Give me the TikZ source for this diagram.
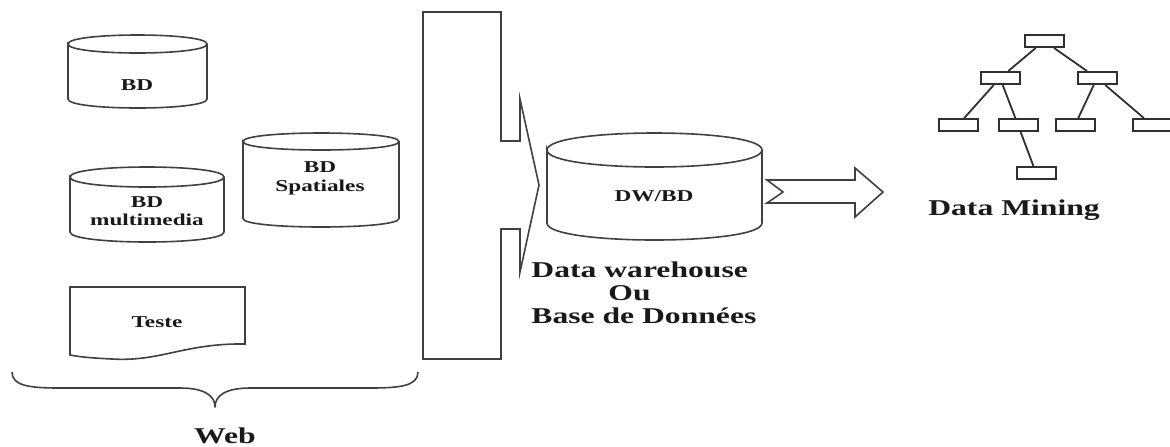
\documentclass[tikz,border=0pt]{standalone}
\usepackage{fontspec}
\setmainfont[FakeStretch=1.4, BoldFont={Liberation Serif Bold}, BoldFeatures={FakeStretch=1.4}]{Liberation Serif}
\newcommand\smalltxt{\fontsize{8.3}{10}\bfseries\selectfont}
\newcommand\bigtxt{\fontsize{11.3}{11.5}\bfseries\selectfont}
\definecolor{linegray}{HTML}{404040}
\definecolor{treegray}{HTML}{303030}
\tikzset{
  shapeline/.style={draw=linegray, line width=0.8pt, line join=miter},
  lbl/.style={inner sep=0pt, anchor=base, text=black!90},
  smalllbl/.style={lbl, font=\smalltxt},
  biglbl/.style={lbl, font=\bigtxt},
  treebox/.style={draw=treegray, line width=1pt, rectangle, minimum width=19.5pt, minimum height=6pt, inner sep=0pt},
  treeedge/.style={draw=treegray, line width=0.9pt},
}
% x1, x2, ytop, ybot, ry
\newcommand\dbcyl[5]{%
  \draw[shapeline] (#1,#3+#5) .. controls (#1,#3-#5/3) and (#2,#3-#5/3) .. (#2,#3+#5)
    .. controls (#2,#3+7*#5/3) and (#1,#3+7*#5/3) .. (#1,#3+#5)
    -- (#1,#4-#5) .. controls (#1,#4+#5/3) and (#2,#4+#5/3) .. (#2,#4-#5) -- (#2,#3+#5);
}
\begin{document}
\begin{tikzpicture}[x=0.5pt, y=-0.5pt]
\useasboundingbox (0,0) rectangle (1170,446);

% cylinders
\dbcyl{68}{207}{35}{108}{9}
\node[smalllbl] (bd1) at (137,90) {BD};

\dbcyl{70}{224}{167}{242}{10}
\node[smalllbl] (bd2a) at (147,207) {BD};
\node[smalllbl] (bd2b) at (147,225) {multimedia};

\dbcyl{243}{399}{133}{227}{8.5}
\node[smalllbl] (bd3a) at (320,172) {BD};
\node[smalllbl] (bd3b) at (320,191) {Spatiales};

% document
\draw[shapeline] (70,287) -- (245,287) -- (245,344)
  .. controls (185,343) and (160,362) .. (112,359)
  .. controls (92,358) and (80,357) .. (70,355) -- cycle;
\node[smalllbl] (teste) at (157,327) {Teste};

% brace
\draw[shapeline, line join=round] (12,372) .. controls (12,386) and (30,388) .. (60,388)
  -- (180,388) .. controls (205,388) and (215,396) .. (215,407)
  .. controls (215,396) and (225,388) .. (250,388)
  -- (370,388) .. controls (400,388) and (418,386) .. (418,372);
\node[biglbl] (web) at (225,443) {Web};

% collector / funnel
\draw[shapeline] (423,12) -- (501,12) -- (501,141) -- (520,141) -- (520,99)
  -- (539,185) -- (520,272) -- (520,229) -- (501,229) -- (501,359) -- (423,359) -- cycle;

% DW/BD cylinder
\dbcyl{547}{762}{133}{240}{17}
\node[smalllbl] (dwbd) at (654,201) {DW/BD};

\node[biglbl, anchor=base west] (dw1) at (531,277) {Data warehouse};
\node[biglbl, anchor=base west] (dw2) at (608,300) {Ou};
\node[biglbl, anchor=base west] (dw3) at (531,323) {Base de Données};

% block arrow
\draw[shapeline] (767,180) -- (855,180) -- (855,168) -- (883,192) -- (855,217)
  -- (855,203) -- (767,203) -- (783,192) -- cycle;

% tree
\node[treebox] (root) at (1044,41) {};
\node[treebox] (l) at (1000,78) {};
\node[treebox] (r) at (1097,78) {};
\node[treebox] (ll) at (958,125) {};
\node[treebox] (lr) at (1018,125) {};
\node[treebox] (rl) at (1075,125) {};
\node[treebox] (rr) at (1152,125) {};
\node[treebox] (lrc) at (1036,173) {};
\draw[treeedge] (root) -- (l);
\draw[treeedge] (root) -- (r);
\draw[treeedge] (l) -- (ll);
\draw[treeedge] (l) -- (lr);
\draw[treeedge] (r) -- (rl);
\draw[treeedge] (r) -- (rr);
\draw[treeedge] (lr) -- (lrc);
\node[biglbl] (dm) at (1014,215) {Data Mining};
\end{tikzpicture}
\end{document}
